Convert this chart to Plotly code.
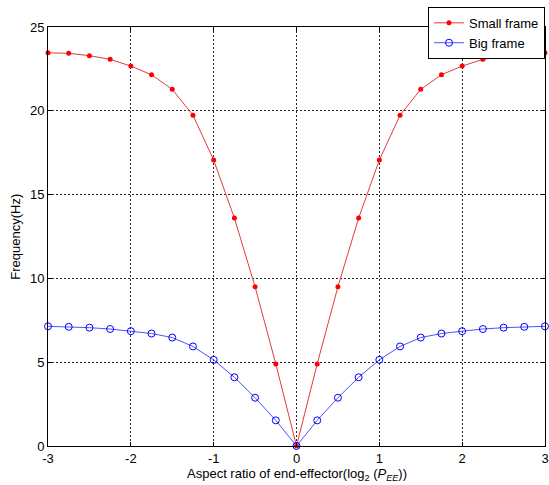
import plotly.graph_objects as go

x_vals = [-3, -2.75, -2.5, -2.25, -2, -1.75, -1.5, -1.25, -1, -0.75, -0.5, -0.25, 0,
          0.25, 0.5, 0.75, 1, 1.25, 1.5, 1.75, 2, 2.25, 2.5, 2.75, 3]
small_frame = [23.46, 23.43, 23.29, 23.07, 22.67, 22.15, 21.28, 19.74, 17.06, 13.60, 9.50, 4.90, 0.0,
               4.90, 9.50, 13.60, 17.06, 19.74, 21.28, 22.15, 22.67, 23.07, 23.29, 23.43, 23.46]
big_frame = [7.14, 7.11, 7.06, 6.98, 6.85, 6.71, 6.47, 5.94, 5.14, 4.10, 2.88, 1.53, 0.0,
             1.53, 2.88, 4.10, 5.14, 5.94, 6.47, 6.71, 6.85, 6.98, 7.06, 7.11, 7.14]
x_ticks = [-3, -2, -1, 0, 1, 2, 3]
y_ticks = [0, 5, 10, 15, 20, 25]

FONT = "Liberation Sans, Arial"

fig = go.Figure()
fig.add_trace(go.Scatter(
    x=x_vals, y=small_frame, mode="lines+markers", name="Small frame",
    line=dict(color="rgb(225,60,60)", width=1),
    marker=dict(color="red", size=5, symbol="circle"),
    cliponaxis=False,
))
fig.add_trace(go.Scatter(
    x=x_vals, y=big_frame, mode="lines+markers", name="Big frame",
    line=dict(color="rgb(80,80,255)", width=1),
    marker=dict(color="blue", size=7, symbol="circle-open", line=dict(width=1)),
    cliponaxis=False,
))

axis_common = dict(
    showline=True, linecolor="black", linewidth=1, mirror="ticks",
    ticks="inside", ticklen=4, tickcolor="black",
    showgrid=True, gridcolor="rgba(0,0,0,0.85)", griddash="2px,2px", gridwidth=1,
    zeroline=False, automargin=False,
    tickfont=dict(family=FONT, size=13, color="black"),
)

fig.update_layout(
    width=549, height=485,
    margin=dict(l=48, r=4, t=27, b=39),
    paper_bgcolor="white", plot_bgcolor="white",
    font=dict(family=FONT, size=13, color="black"),
    xaxis=dict(range=[-3, 3], tickvals=x_ticks, ticktext=[str(v) for v in x_ticks], **axis_common),
    yaxis=dict(range=[0, 25], tickvals=y_ticks, **axis_common),
    legend=dict(x=1.0, y=1.048, xanchor="right", yanchor="top",
                bgcolor="white", bordercolor="black", borderwidth=1,
                font=dict(family=FONT, size=13), tracegroupgap=0, itemwidth=30),
    showlegend=True,
    annotations=[
        dict(text="Aspect ratio of end-effector(log<sub>2</sub> (<i>P<sub>EE</sub></i>))",
             xref="paper", yref="paper", x=0.5, y=-0.043, xanchor="center", yanchor="top",
             showarrow=False, font=dict(family=FONT, size=13, color="black")),
        dict(text="Frequency(Hz)", xref="paper", yref="paper", x=-0.066, y=0.5,
             xanchor="center", yanchor="middle", textangle=-90,
             showarrow=False, font=dict(family=FONT, size=13, color="black")),
    ],
)

fig.write_html("out.html", config={"displayModeBar": False},
               post_script="document.body.style.margin='0';document.body.style.overflow='hidden';")
